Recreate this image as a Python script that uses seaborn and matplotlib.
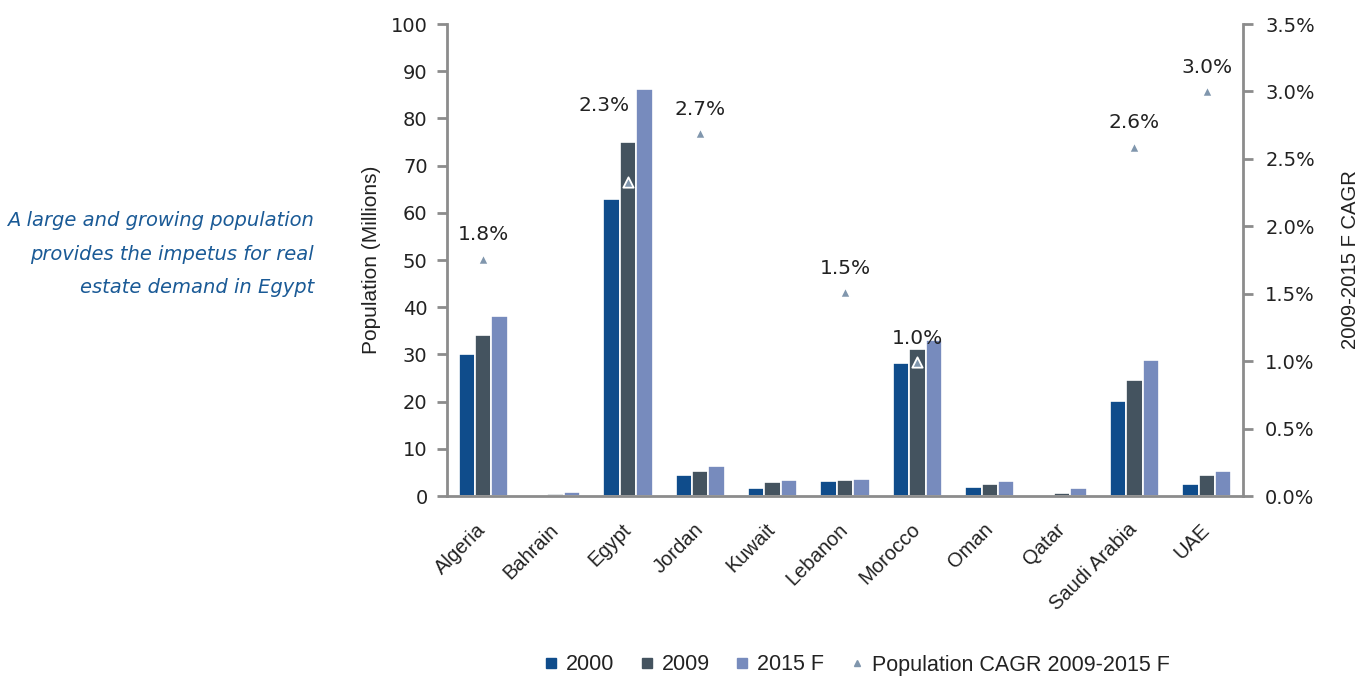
import numpy as np
import pandas as pd
import matplotlib
matplotlib.use("Agg")
import matplotlib.pyplot as plt
from matplotlib.lines import Line2D
from matplotlib.ticker import PercentFormatter, MultipleLocator
import seaborn as sns

# ---- data -------------------------------------------------------------
countries = ["Algeria", "Bahrain", "Egypt", "Jordan", "Kuwait", "Lebanon",
             "Morocco", "Oman", "Qatar", "Saudi Arabia", "UAE"]
year_labels = ["2000", "2009", "2015 F"]
pop_2000 = [30.1, np.nan, 62.9, 4.4, 1.8, 3.2, 28.1, 2.0, np.nan, 20.1, 2.5]
pop_2009 = [34.1, 0.5, 75.0, 5.4, 3.0, 3.4, 31.1, 2.5, 0.6, 24.6, 4.4]
pop_2015 = [38.1, 0.8, 86.2, 6.4, 3.4, 3.7, 33.0, 3.2, 1.8, 28.8, 5.4]

cagr_countries = ["Algeria", "Egypt", "Jordan", "Lebanon", "Morocco",
                  "Saudi Arabia", "UAE"]
cagr_values = [1.76, 2.33, 2.69, 1.51, 0.99, 2.59, 3.00]   # percent

# ---- styling ----------------------------------------------------------
bar_colors = ["#0f4c8b", "#44535f", "#778bbd"]
marker_color = "#8096ad"
spine_color = "#8c8c8c"
note_color = "#1a5a96"
text_color = "#222222"

sns.set_theme(style="white")
plt.rcParams["font.family"] = ["DejaVu Sans"]
label_font = ["Liberation Sans", "DejaVu Sans"]

df = pd.DataFrame({
    "Country": countries * 3,
    "Year": np.repeat(year_labels, len(countries)),
    "Population": pop_2000 + pop_2009 + pop_2015,
})

fig = plt.figure(figsize=(13.7, 6.78), dpi=100)
ax = fig.add_axes([447 / 1370, 1 - 496 / 678, (1243 - 447) / 1370, (496 - 24) / 678])

sns.barplot(data=df.dropna(), x="Country", y="Population", hue="Year",
            order=countries, hue_order=year_labels, palette=bar_colors,
            saturation=1, width=0.68, edgecolor="white", linewidth=1.2,
            legend=False, errorbar=None, ax=ax)

ax.set_xlim(-0.5, len(countries) - 0.5)
ax.set_ylim(0, 100)
ax.yaxis.set_major_locator(MultipleLocator(10))
ax.set_xlabel("")
ax.set_ylabel("Population (Millions)", fontsize=15, color=text_color,
              labelpad=7, family=label_font)

# category ticks sit on group boundaries
ax.set_xticks(np.arange(-0.5, len(countries), 1.0), minor=True)
ax.tick_params(axis="x", which="major", length=0, pad=22)
ax.tick_params(axis="x", which="minor", length=6, width=2, color=spine_color,
               direction="out")
ax.tick_params(axis="y", length=7, width=2, color=spine_color, direction="out",
               labelsize=14, labelcolor=text_color, left=True, pad=7)
for lab in ax.get_xticklabels():
    lab.set_rotation(45)
    lab.set_ha("right")
    lab.set_va("center")
    lab.set_rotation_mode("anchor")
    lab.set_fontsize(14.5)
    lab.set_family(label_font)
    lab.set_color(text_color)

for side in ["top", "right"]:
    ax.spines[side].set_visible(False)
for side in ["left", "bottom"]:
    ax.spines[side].set_color(spine_color)
    ax.spines[side].set_linewidth(2)

# ---- CAGR on the secondary axis --------------------------------------
ax2 = ax.twinx()
cagr_pos = [countries.index(c) for c in cagr_countries]
sns.scatterplot(x=cagr_pos, y=cagr_values, marker="^", s=55,
                color=marker_color, edgecolor="white", linewidth=1.3,
                ax=ax2, legend=False, zorder=5)
ax2.set_ylim(0, 3.5)
ax2.yaxis.set_major_locator(MultipleLocator(0.5))
ax2.yaxis.set_major_formatter(PercentFormatter(decimals=1))
ax2.set_ylabel("2009-2015 F CAGR", fontsize=14.6, color=text_color,
               labelpad=19, family=label_font)
ax2.tick_params(axis="y", length=7, width=2, color=spine_color, direction="out",
                labelsize=14, labelcolor=text_color, right=True, pad=9)
for side in ["top", "left", "bottom"]:
    ax2.spines[side].set_visible(False)
ax2.spines["right"].set_color(spine_color)
ax2.spines["right"].set_linewidth(2)
ax2.grid(False)
ax.grid(False)

label_offsets = {"Egypt": (-24, 76)}
for c, x, v in zip(cagr_countries, cagr_pos, cagr_values):
    dx, dy = label_offsets.get(c, (0, 24))
    ax2.annotate(f"{v:.1f}%", (x, v), xytext=(dx, dy), textcoords="offset pixels",
                 ha="center", va="center", fontsize=14.5, color=text_color, zorder=6)

# ---- legend ----------------------------------------------------------
handles = [Line2D([], [], marker="s", linestyle="none", markersize=6.5,
                  markerfacecolor=col, markeredgecolor=col) for col in bar_colors]
handles.append(Line2D([], [], marker="^", linestyle="none", markersize=5,
                      markerfacecolor=marker_color, markeredgecolor=marker_color))
fig.legend(handles, year_labels + ["Population CAGR 2009-2015 F"],
           loc="center", bbox_to_anchor=(856 / 1370, 1 - 665 / 678), ncol=4,
           frameon=False, handlelength=0.8, handletextpad=0.3,
           columnspacing=1.1, labelcolor=text_color,
           prop={"family": label_font, "size": 15.5})

# ---- side note -------------------------------------------------------
fig.text(314 / 1370, 1 - 254 / 678,
         "A large and growing population\nprovides the impetus for real\nestate demand in Egypt",
         ha="right", va="center", fontsize=14, style="italic", color=note_color,
         linespacing=1.95)

fig.savefig("out.png", dpi=100)
